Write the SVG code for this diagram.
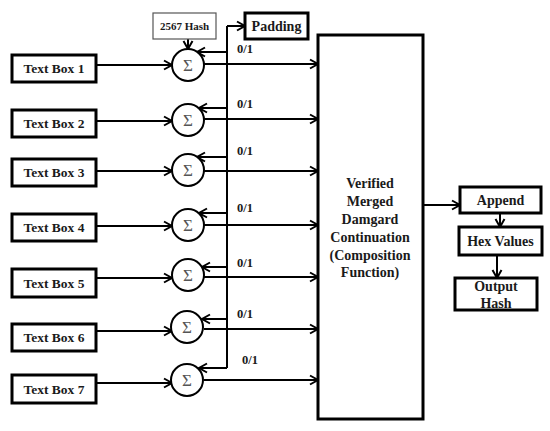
<svg xmlns="http://www.w3.org/2000/svg" width="550" height="431" viewBox="0 0 550 431">
<defs>
<marker id="ah" markerUnits="userSpaceOnUse" markerWidth="12" markerHeight="12" refX="9" refY="5" orient="auto" overflow="visible">
<path d="M1,0.5 L9,5 L1,9.5" fill="none" stroke="#000" stroke-width="2"/>
</marker>
<style>
.box{fill:#fff;stroke:#000;stroke-width:3}
.thin{fill:#fff;stroke:#555;stroke-width:1.2}
.circ{fill:#fff;stroke:#000;stroke-width:2}
.lbl{font-family:"Liberation Serif",serif;font-weight:bold;fill:#1a1a1a;text-anchor:middle}
.sig{font-family:"Liberation Serif",serif;font-size:17px;fill:#555;text-anchor:middle}
.num{font-family:"Liberation Serif",serif;font-weight:bold;font-size:12.5px;fill:#1a1a1a}
.ln{fill:none;stroke:#000;stroke-width:2}
.arr{fill:none;stroke:#000;stroke-width:2;marker-end:url(#ah)}
</style>
</defs>
<rect width="550" height="431" fill="#fff"/>
<g id="connectors">
<line class="arr" x1="96" y1="65" x2="172" y2="65"/>
<line class="arr" x1="96" y1="121" x2="172" y2="121"/>
<line class="arr" x1="96" y1="171" x2="172" y2="171"/>
<line class="arr" x1="96" y1="226" x2="172" y2="226"/>
<line class="arr" x1="96" y1="278" x2="172" y2="278"/>
<line class="arr" x1="96" y1="331" x2="172" y2="331"/>
<line class="arr" x1="96" y1="383" x2="172" y2="383"/>
<line class="arr" x1="188" y1="39" x2="188" y2="49"/>
<polyline class="ln" points="227,368 227,26"/>
<line class="arr" x1="227" y1="26" x2="245" y2="26"/>
<line class="arr" x1="227" y1="52" x2="197" y2="52"/>
<line class="arr" x1="227" y1="108" x2="199" y2="108"/>
<line class="arr" x1="227" y1="157" x2="197" y2="157"/>
<line class="arr" x1="227" y1="213" x2="199" y2="213"/>
<line class="arr" x1="227" y1="267" x2="202" y2="267"/>
<line class="arr" x1="227" y1="319" x2="202" y2="319"/>
<line class="arr" x1="227" y1="368" x2="199" y2="368"/>
<line class="arr" x1="204" y1="64" x2="318" y2="64"/>
<line class="arr" x1="204" y1="119" x2="318" y2="119"/>
<line class="arr" x1="204" y1="171" x2="318" y2="171"/>
<line class="arr" x1="204" y1="225" x2="318" y2="225"/>
<line class="arr" x1="204" y1="277" x2="318" y2="277"/>
<line class="arr" x1="204" y1="329" x2="318" y2="329"/>
<line class="arr" x1="204" y1="380" x2="318" y2="380"/>
<line class="arr" x1="423" y1="205" x2="460" y2="205"/>
<line class="arr" x1="500" y1="213" x2="500" y2="227"/>
<line class="arr" x1="497" y1="255" x2="497" y2="278"/>
<text class="num" x="237" y="53">0/1</text>
<text class="num" x="237" y="108">0/1</text>
<text class="num" x="237" y="155">0/1</text>
<text class="num" x="237" y="212">0/1</text>
<text class="num" x="237" y="267">0/1</text>
<text class="num" x="237" y="318">0/1</text>
<text class="num" x="242" y="364">0/1</text>
</g>
<g id="tb1"><rect class="box" x="12" y="55" width="84" height="27"/><text class="lbl" x="54" y="73" font-size="13.5">Text Box 1</text></g>
<g id="tb2"><rect class="box" x="12" y="110" width="84" height="27"/><text class="lbl" x="54" y="128" font-size="13.5">Text Box 2</text></g>
<g id="tb3"><rect class="box" x="12" y="159" width="84" height="27"/><text class="lbl" x="54" y="177" font-size="13.5">Text Box 3</text></g>
<g id="tb4"><rect class="box" x="12" y="214" width="84" height="27"/><text class="lbl" x="54" y="232" font-size="13.5">Text Box 4</text></g>
<g id="tb5"><rect class="box" x="12" y="269" width="84" height="28"/><text class="lbl" x="54" y="288" font-size="13.5">Text Box 5</text></g>
<g id="tb6"><rect class="box" x="12" y="324" width="84" height="27"/><text class="lbl" x="54" y="342" font-size="13.5">Text Box 6</text></g>
<g id="tb7"><rect class="box" x="12" y="375" width="84" height="28"/><text class="lbl" x="54" y="394" font-size="13.5">Text Box 7</text></g>
<g id="s1"><circle class="circ" cx="188" cy="65" r="16"/><text class="sig" x="188" y="71">Σ</text></g>
<g id="s2"><circle class="circ" cx="188" cy="120" r="16"/><text class="sig" x="188" y="126">Σ</text></g>
<g id="s3"><circle class="circ" cx="188" cy="170" r="16"/><text class="sig" x="188" y="176">Σ</text></g>
<g id="s4"><circle class="circ" cx="188" cy="225" r="16"/><text class="sig" x="188" y="231">Σ</text></g>
<g id="s5"><circle class="circ" cx="188" cy="275" r="16"/><text class="sig" x="188" y="281">Σ</text></g>
<g id="s6"><circle class="circ" cx="187" cy="327" r="16"/><text class="sig" x="187" y="333">Σ</text></g>
<g id="s7"><circle class="circ" cx="187" cy="380" r="16"/><text class="sig" x="187" y="386">Σ</text></g>
<g id="hash"><rect class="thin" x="153" y="13" width="63" height="26"/><text class="lbl" x="184.5" y="30" font-size="11">2567 Hash</text></g>
<g id="padding"><rect class="box" x="245" y="13" width="63" height="26"/><text class="lbl" x="276.5" y="31" font-size="14">Padding</text></g>
<g id="main"><rect class="box" x="318" y="35" width="105" height="384"/>
<text class="lbl" font-size="14"><tspan x="370" y="188">Verified</tspan><tspan x="370" y="206">Merged</tspan><tspan x="370" y="224">Damgard</tspan><tspan x="370" y="242">Continuation</tspan><tspan x="370" y="260">(Composition</tspan><tspan x="370" y="277">Function)</tspan></text></g>
<g id="append"><rect class="box" x="460" y="187" width="81" height="26"/><text class="lbl" x="500.5" y="205" font-size="14">Append</text></g>
<g id="hex"><rect class="box" x="459" y="227" width="83" height="28"/><text class="lbl" x="500.5" y="246" font-size="14">Hex Values</text></g>
<g id="output"><rect class="box" x="455" y="278" width="82" height="32"/><text class="lbl" font-size="14"><tspan x="496" y="291">Output</tspan><tspan x="496" y="308">Hash</tspan></text></g>
</svg>
